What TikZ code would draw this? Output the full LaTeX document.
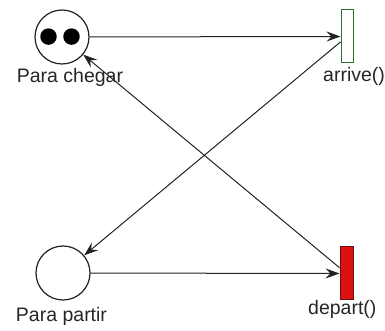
\documentclass[tikz,border=0pt]{standalone}
\usepackage{fontspec}
\setmainfont{Liberation Sans}
\usetikzlibrary{arrows.meta}
\definecolor{linec}{HTML}{222222}
\definecolor{greenb}{HTML}{2E6B2E}
\definecolor{redf}{HTML}{DD1111}
\definecolor{redb}{HTML}{6B1010}
\tikzset{
  place/.style={circle, draw=linec, line width=1.2pt, fill=white, minimum size=54pt, inner sep=0pt},
  token/.style={circle, fill=black, minimum size=16.5pt, inner sep=0pt},
  trans/.style={rectangle, line width=1pt, minimum width=12pt, minimum height=53pt, inner sep=0pt},
  lbl/.style={inner sep=0pt, font=\fontsize{19.5}{22}\selectfont, text=black!85},
  arc/.style={draw=linec, line width=1pt, -{Stealth[length=14pt,width=10pt,inset=5pt]}}
}
\begin{document}
\begin{tikzpicture}[x=1pt,y=1pt]
\useasboundingbox (0,0) rectangle (385,331);
\node[place] (chegar) at (62,294) {};
\node[token] (t1) at (48.5,294.4) {};
\node[token] (t2) at (71.5,294.4) {};
\node[place] (partir) at (63,58) {};
\node[trans, draw=greenb, fill=white] (arrive) at (347,294.5) {};
\node[trans, draw=redb, fill=redf, minimum width=13pt] (depart) at (346.5,57.5) {};
\node[lbl, anchor=base] (lchegar) at (70,248) {Para chegar};
\node[lbl, anchor=base] (lpartir) at (61.5,9) {Para partir};
\node[lbl, anchor=base west] (larrive) at (323,249) {arrive()};
\node[lbl, anchor=base west] (ldepart) at (308,16) {depart()};
\draw[arc] (chegar) -- (arrive);
\draw[arc] (partir) -- (depart);
\draw[arc] (arrive) -- (partir);
\draw[arc] (depart) -- (chegar);
\end{tikzpicture}
\end{document}
